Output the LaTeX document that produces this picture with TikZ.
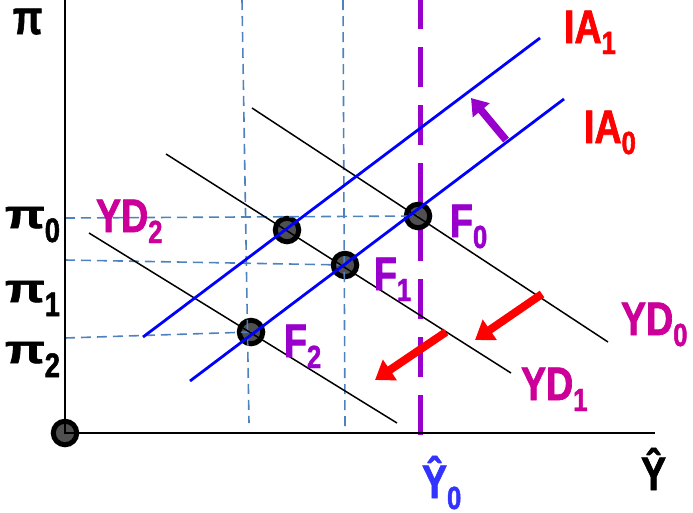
\documentclass[tikz,border=0pt]{standalone}
\usepackage{fontspec}
\usepackage{graphicx}
\usetikzlibrary{arrows.meta}
\newfontfamily\lbf[FakeStretch=0.8,FakeBold=1.5]{Liberation Sans}
\newfontfamily\lbfn[FakeBold=1.5]{Liberation Sans}
\newcommand{\mainsz}{\fontsize{47}{47}\selectfont}
\newcommand{\subsz}{\fontsize{32}{32}\selectfont}
\newcommand{\lab}[2]{{\lbf\bfseries\mainsz #1\raisebox{-11pt}{\subsz #2}}}
\newcommand{\pilab}[1]{{\lbfn\bfseries\fontsize{40}{40}\selectfont\scalebox{1.3}[1]{π}\raisebox{-14pt}{\lbf\bfseries\fontsize{34}{34}\selectfont #1}}}
\definecolor{iablue}{RGB}{0,0,255}
\definecolor{helpblue}{RGB}{79,129,189}
\definecolor{fpurple}{RGB}{153,0,204}
\definecolor{ydmag}{RGB}{204,0,153}
\definecolor{yhatblue}{RGB}{51,51,255}
\definecolor{dotgray}{RGB}{80,80,80}
\begin{document}
\begin{tikzpicture}[x=1pt,y=-1pt,
  axisline/.style={line width=1.6pt,black},
  ialine/.style={line width=2.8pt,color=iablue},
  ydline/.style={line width=1.5pt,black},
  helper/.style={line width=1.6pt,color=helpblue,dash pattern=on 10pt off 6pt},
  ylevel/.style={line width=5pt,color=fpurple,dash pattern=on 40pt off 18pt,dash phase=11pt},
  eqpt/.style={circle,draw=black,line width=5pt,fill=dotgray,minimum size=23.5pt,inner sep=0pt},
  shiftred/.style={-{Triangle[length=18pt,width=24pt]},line width=8pt,red},
  shiftpurple/.style={-{Triangle[length=16pt,width=21pt]},line width=7.5pt,fpurple},
  lbl/.style={anchor=base west,inner sep=0pt,outer sep=0pt}]
\useasboundingbox (0,0) rectangle (693,512);
% coordinates
\coordinate (ytop) at (65,0);
\coordinate (xend) at (655,433);
\coordinate (a0s) at (190,381);
\coordinate (a0e) at (564,99);
\coordinate (a1s) at (143,337);
\coordinate (a1e) at (540,38);
\coordinate (d0s) at (252,108);
\coordinate (d0e) at (608,342);
\coordinate (d1s) at (166,154);
\coordinate (d1e) at (511,373);
\coordinate (d2s) at (89,233);
\coordinate (d2e) at (397,423);
\coordinate (h0s) at (65,218);
\coordinate (h1s) at (65,260);
\coordinate (h2s) at (65,338);
\coordinate (v1s) at (242,0);
\coordinate (v1e) at (249,423);
\coordinate (v2s) at (343,0);
\coordinate (v2e) at (345,427);
\coordinate (ps) at (420,0);
\coordinate (pe) at (420,437);
\coordinate (r1s) at (542,294);
\coordinate (r1e) at (475,340);
\coordinate (r2s) at (446,332);
\coordinate (r2e) at (375,380);
\coordinate (pus) at (506,140);
\coordinate (pue) at (471,98);
% potential output level
\draw[ylevel] (ps) -- (pe);
% equilibrium points
\node[eqpt] (O) at (65,433) {};
\node[eqpt] (F0) at (418,216) {};
\node[eqpt] (F1) at (345,265) {};
\node[eqpt] (F2) at (251,332) {};
\node[eqpt] (G) at (287,230) {};
% helper lines
\draw[helper] (h0s) -- (F0.center);
\draw[helper] (h1s) -- (F1.center);
\draw[helper] (h2s) -- (F2.center);
\draw[helper] (v1s) -- (v1e);
\draw[helper] (v2s) -- (v2e);
% YD curves
\draw[ydline] (d0s) -- (d0e);
\draw[ydline] (d1s) -- (d1e);
\draw[ydline] (d2s) -- (d2e);
% IA curves
\draw[ialine] (a0s) -- (a0e);
\draw[ialine] (a1s) -- (a1e);
% axes
\draw[axisline] (ytop) -- (O.center) -- (xend);
% shift arrows
\draw[shiftred] (r1s) -- (r1e);
\draw[shiftred] (r2s) -- (r2e);
\draw[shiftpurple] (pus) -- (pue);
% labels
\node[lbl] (lpi) at (13,34) {\lbfn\bfseries\fontsize{48}{48}\selectfont\scalebox{0.8}[1]{π}};
\node[lbl] (lpi0) at (5,228) {\pilab{0}};
\node[lbl] (lpi1) at (5,302) {\pilab{1}};
\node[lbl] (lpi2) at (5,363) {\pilab{2}};
\node[lbl,text=ydmag] (lYD2) at (96,232) {\lab{YD}{2}};
\node[lbl,text=ydmag] (lYD1) at (521,400) {\lab{YD}{1}};
\node[lbl,text=ydmag] (lYD0) at (621,335) {\lab{YD}{0}};
\node[lbl,text=fpurple] (lF0) at (450,237) {\lab{F}{0}};
\node[lbl,text=fpurple] (lF1) at (374,290) {\lab{F}{1}};
\node[lbl,text=fpurple] (lF2) at (284,357) {\lab{F}{2}};
\node[lbl,text=red] (lIA1) at (564,43) {\lab{IA}{1}};
\node[lbl,text=red] (lIA0) at (584,143) {\lab{IA}{0}};
\node[lbl,text=yhatblue] (lY0) at (422,498) {\lab{Ŷ}{0}};
\node[lbl] (lY) at (641,490) {\lab{Ŷ}{}};
\end{tikzpicture}
\end{document}
